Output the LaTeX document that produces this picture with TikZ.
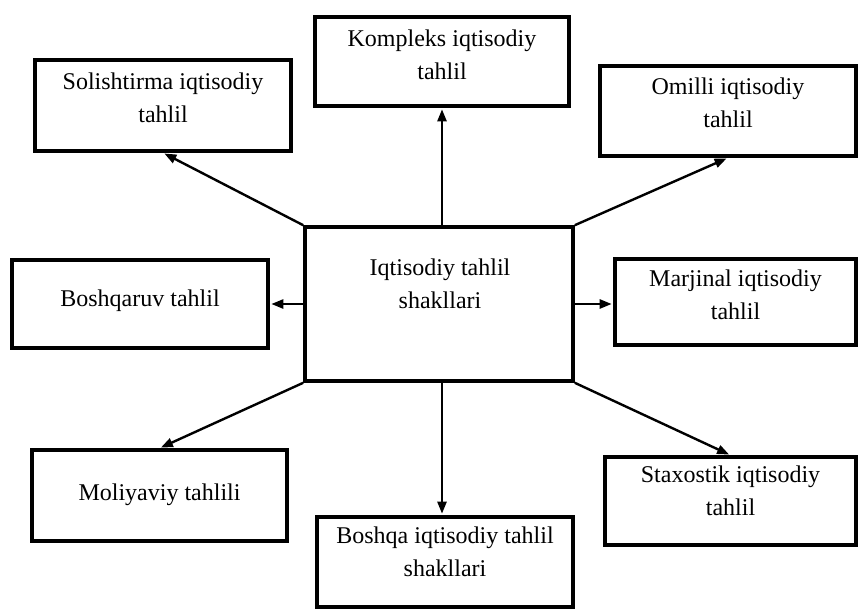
\documentclass[tikz,border=0pt]{standalone}
\usepackage{fontspec}
\setmainfont{Liberation Serif}
\usetikzlibrary{arrows.meta,calc}

\begin{document}
\begin{tikzpicture}[x=1pt,y=-1pt,
  formbox/.style={draw=black, line width=3.6pt, fill=white, inner sep=0pt},
  lbl/.style={align=center, font=\fontsize{24}{33}\selectfont, inner sep=0pt},
  arr/.style={line width=2.4pt, shorten >=1.5pt, -{Triangle[length=12pt,width=9pt]}}]

\useasboundingbox (0,0) rectangle (858,609);

% central box
\node[formbox, minimum width=268pt, minimum height=154pt] (c) at (439,304) {};
\node[lbl] (ct) at (440,284) {Iqtisodiy tahlil\\shakllari};

% surrounding forms of analysis
\node[formbox, minimum width=254pt, minimum height=89pt] (k) at (442,61.5) {};
\node[lbl] at ($(k.center)+(0,-7)$) {Kompleks iqtisodiy\\tahlil};

\node[formbox, minimum width=256pt, minimum height=91pt] (s) at (163,105.5) {};
\node[lbl] at ($(s.center)+(0,-8)$) {Solishtirma iqtisodiy\\tahlil};

\node[formbox, minimum width=256pt, minimum height=90pt] (o) at (728,111) {};
\node[lbl] at ($(o.center)+(0,-8)$) {Omilli iqtisodiy\\tahlil};

\node[formbox, minimum width=256pt, minimum height=88pt] (b) at (140,304) {};
\node[lbl] at ($(b.center)+(0,-3)$) {Boshqaruv tahlil};

\node[formbox, minimum width=241pt, minimum height=86pt] (mj) at (735.5,302) {};
\node[lbl] at ($(mj.center)+(0,-7)$) {Marjinal iqtisodiy\\tahlil};

\node[formbox, minimum width=255pt, minimum height=91pt] (m) at (159.5,495.5) {};
\node[lbl] at ($(m.center)+(0,-1)$) {Moliyaviy tahlili};

\node[formbox, minimum width=256pt, minimum height=90pt] (bq) at (445,562) {};
\node[lbl] at ($(bq.center)+(0,-10)$) {Boshqa iqtisodiy tahlil\\shakllari};

\node[formbox, minimum width=251pt, minimum height=88pt] (st) at (730.5,501) {};
\node[lbl] at ($(st.center)+(0,-10)$) {Staxostik iqtisodiy\\tahlil};

% connectors
\draw[arr] (c.north -| k.south) -- (k.south);
\draw[arr] (c.north west) -- (s.south);
\draw[arr] (c.north east) -- (o.south);
\draw[arr] (c.west) -- (b.east);
\draw[arr] (c.east) -- (c.east -| mj.west);
\draw[arr] (c.south west) -- (m.north);
\draw[arr] (c.south -| k.south) -- (bq.north -| k.south);
\draw[arr] (c.south east) -- (st.north);
\end{tikzpicture}
\end{document}
